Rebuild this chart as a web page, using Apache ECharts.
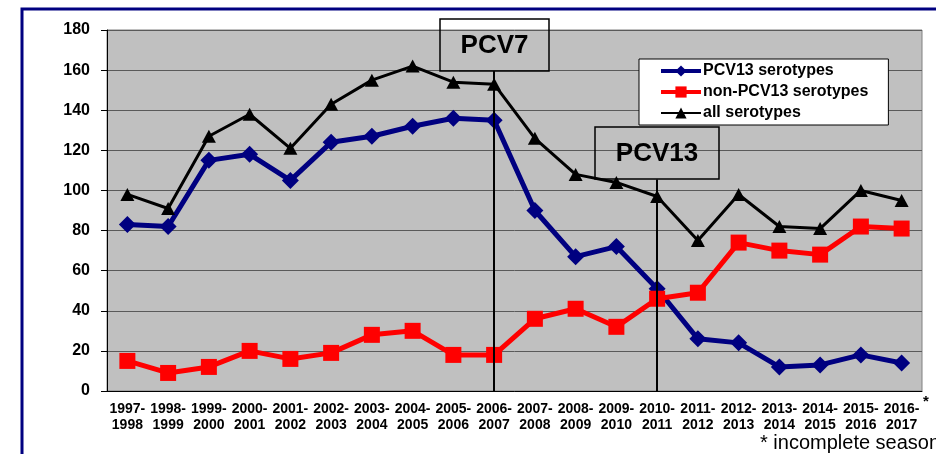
<!DOCTYPE html>
<html>
<head>
<meta charset="utf-8">
<script src="https://cdn.jsdelivr.net/npm/echarts@6/dist/echarts.min.js"></script>
<style>
html, body { margin: 0; padding: 0; background: #fff; }
#container { width: 936px; height: 454px; }
</style>
</head>
<body>
<div id="container"></div>
<script>
// seasons
var seasons = ['1997-1998', '1998-1999', '1999-2000', '2000-2001', '2001-2002', '2002-2003', '2003-2004',
	'2004-2005', '2005-2006', '2006-2007', '2007-2008', '2008-2009', '2009-2010', '2010-2011',
	'2011-2012', '2012-2013', '2013-2014', '2014-2015', '2015-2016', '2016-2017'];
var pcv13 = [83, 82, 115, 118, 105, 124, 127, 132, 136, 135, 90, 67, 72, 51, 26, 24, 12, 13, 18, 14];
var nonPcv13 = [15, 9, 12, 20, 16, 19, 28, 30, 18, 18, 36, 41, 32, 46, 49, 74, 70, 68, 82, 81];
var allSero = [98, 91, 127, 138, 121, 143, 155, 162, 154, 153, 126, 108, 104, 97, 75, 98, 82, 81, 100, 95];
var yTicks = [0, 20, 40, 60, 80, 100, 120, 140, 160, 180];

var font = '"Liberation Sans", Arial, sans-serif';
var dom = document.getElementById("container");
var myChart = echarts.init(dom);

var option = {
	backgroundColor: '#fff',
	animation: false,
	textStyle: { fontFamily: font },
	grid: {
		left: 107,
		right: 14,
		top: 30,
		bottom: 63,
		show: true,
		backgroundColor: '#c0c0c0',
		borderColor: '#808080',
		borderWidth: 1
	},
	legend: {
		orient: 'vertical',
		left: 639,
		top: 59,
		backgroundColor: '#fff',
		borderColor: '#000',
		borderWidth: 1,
		padding: [4, 20, 4, 20],
		itemGap: 5,
		itemWidth: 40,
		itemHeight: 14,
		textStyle: { fontFamily: font, fontSize: 16, fontWeight: 'bold', color: '#000', padding: [0, 0, 0, -3] },
		data: [{
				name: 'PCV13 serotypes',
				lineStyle: { width: 4 }
			},
			{
				name: 'non-PCV13 serotypes',
				lineStyle: { width: 4 }
			},
			{
				name: 'all serotypes',
				lineStyle: { width: 2 }
			}
		]
	},
	xAxis: {
		type: 'category',
		data: seasons,
		boundaryGap: true,
		axisLine: { lineStyle: { color: '#000', width: 1 } },
		axisTick: { length: 5, lineStyle: { color: '#000' } },
		axisLabel: {
			interval: 0,
			margin: 10,
			color: '#000',
			fontFamily: font,
			fontSize: 14,
			fontWeight: 'bold',
			lineHeight: 16,
			formatter: function(v) {
				var p = v.split('-');
				return p[0] + '-\n' + p[1];
			}
		}
	},
	yAxis: {
		type: 'value',
		min: 0,
		max: 180,
		interval: 20,
		axisLine: { show: true, lineStyle: { color: '#000', width: 1 } },
		axisTick: { show: true, length: 6, lineStyle: { color: '#000' } },
		splitLine: { lineStyle: { color: '#5a5a5a', width: 1 } },
		axisLabel: {
			margin: 17,
			color: '#000',
			fontFamily: font,
			fontSize: 16,
			fontWeight: 'bold',
			formatter: function(v) {
				return yTicks.indexOf(v) >= 0 ? String(v) : '';
			}
		}
	},
	series: [{
			name: 'PCV13 serotypes',
			type: 'line',
			data: pcv13,
			symbol: 'diamond',
			symbolSize: 17,
			lineStyle: { color: '#000080', width: 5 },
			itemStyle: { color: '#000080' }
		},
		{
			name: 'non-PCV13 serotypes',
			type: 'line',
			data: nonPcv13,
			symbol: 'rect',
			symbolSize: 16,
			lineStyle: { color: '#ff0000', width: 5 },
			itemStyle: { color: '#ff0000' }
		},
		{
			name: 'all serotypes',
			type: 'line',
			data: allSero,
			symbol: 'triangle',
			symbolSize: [14, 13],
			lineStyle: { color: '#000', width: 3 },
			itemStyle: { color: '#000' },
			//疫苗引入标线
			markLine: {
				silent: true,
				symbol: 'none',
				label: { show: false },
				lineStyle: { color: '#000', width: 2, type: 'solid' },
				data: [
					[{ coord: ['2006-2007', 0] }, { coord: ['2006-2007', 159.5] }],
					[{ coord: ['2010-2011', 0] }, { coord: ['2010-2011', 105.5] }]
				]
			}
		}
	],
	graphic: [{
			// 外框
			type: 'rect',
			shape: { x: 22, y: 9, width: 1000, height: 1000 },
			style: { fill: 'none', stroke: '#000080', lineWidth: 3 },
			silent: true
		},
		{
			type: 'rect',
			shape: { x: 440, y: 19, width: 109, height: 52 },
			style: { fill: 'none', stroke: '#000', lineWidth: 1.5 },
			z: 10
		},
		{
			type: 'text',
			x: 494.5,
			y: 46,
			style: { text: 'PCV7', font: 'bold 26px ' + font, fill: '#000', align: 'center', verticalAlign: 'middle' },
			z: 10
		},
		{
			type: 'rect',
			shape: { x: 595, y: 127, width: 124, height: 52 },
			style: { fill: 'none', stroke: '#000', lineWidth: 1.5 },
			z: 10
		},
		{
			type: 'text',
			x: 657,
			y: 154,
			style: { text: 'PCV13', font: 'bold 26px ' + font, fill: '#000', align: 'center', verticalAlign: 'middle' },
			z: 10
		},
		{
			type: 'text',
			x: 923,
			y: 394,
			style: { text: '*', font: 'bold 15px ' + font, fill: '#000' },
			z: 10
		},
		{
			type: 'text',
			x: 760,
			y: 443,
			style: { text: '* incomplete season', font: '20px ' + font, fill: '#000', verticalAlign: 'middle' },
			z: 10
		}
	]
};
myChart.setOption(option);
</script>
</body>
</html>
